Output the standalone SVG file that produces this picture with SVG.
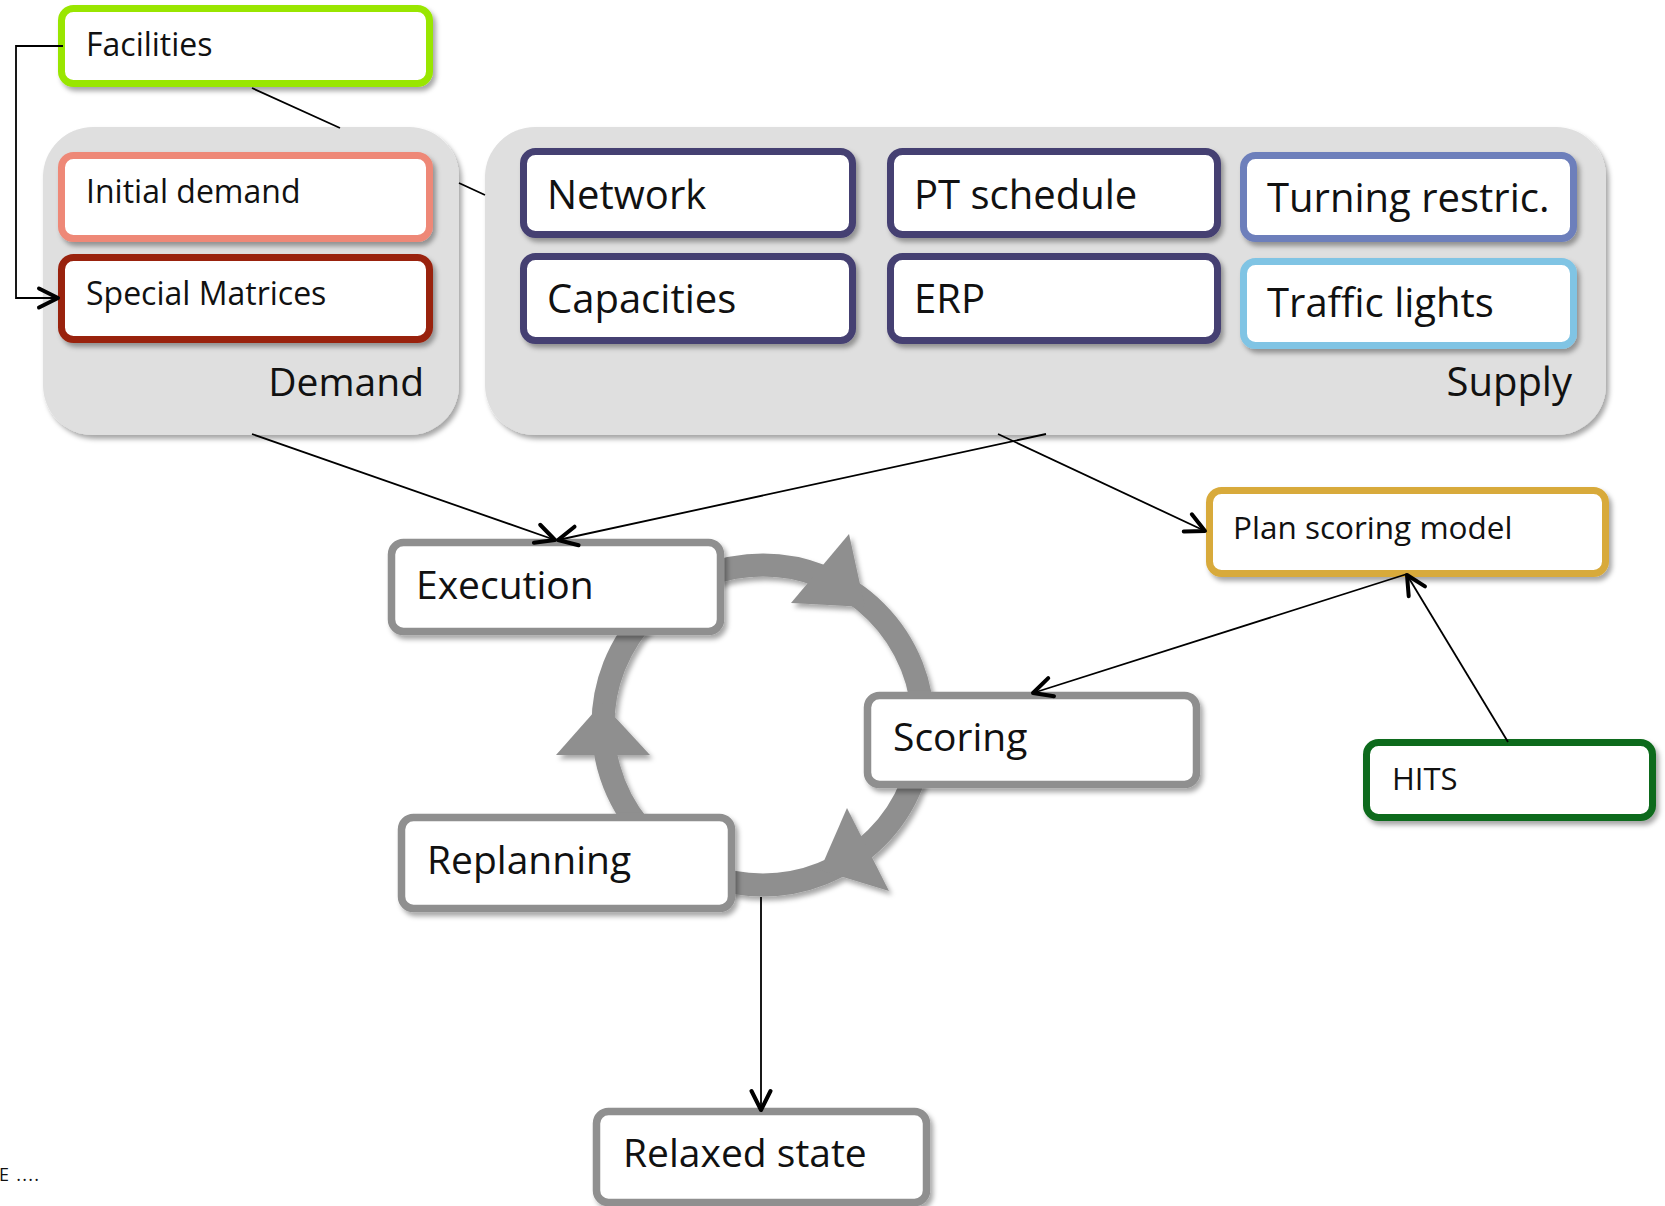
<svg xmlns="http://www.w3.org/2000/svg" width="1665" height="1206" viewBox="0 0 1665 1206">
<defs>
<filter id="sh" x="-10%" y="-20%" width="130%" height="150%">
<feDropShadow dx="3" dy="4" stdDeviation="2.5" flood-color="#000" flood-opacity="0.35"/>
</filter>
<marker id="arr" markerUnits="userSpaceOnUse" markerWidth="40" markerHeight="40" refX="0" refY="0" viewBox="-25 -20 30 40" orient="auto" overflow="visible">
<path d="M-19,-9.5 L0,0 L-19,9.5" fill="none" stroke="#000" stroke-width="4" stroke-linejoin="round" stroke-linecap="round"/>
</marker>
</defs>
<style>
text{font-family:"Open Sans","Noto Sans","Liberation Sans",sans-serif;fill:#111}
.box{fill:#fff;stroke-width:7;filter:url(#sh)}
.grp{fill:#dfdfdf;filter:url(#sh)}
.cyc{fill:#fff;stroke:#8f8f8f;stroke-width:7.5;filter:url(#sh)}
.con{fill:none;stroke:#000;stroke-width:1.8}
.navy{stroke:#443f72}
.t40{font-size:40px}
.t32{font-size:32px}
</style>
<rect width="1665" height="1206" fill="#fff"/>

<g id="demand-group">
<rect class="grp" x="43" y="127" width="416" height="308" rx="50"/>
<text x="424" y="396" font-size="39" text-anchor="end">Demand</text>
</g>
<g id="supply-group">
<rect class="grp" x="485" y="127" width="1121" height="308" rx="50"/>
<text x="1572" y="396" font-size="40" text-anchor="end">Supply</text>
</g>

<g id="facilities">
<rect class="box" x="61.5" y="8.5" width="368" height="75" rx="12" stroke="#99e600"/>
<text class="t32" x="86" y="56">Facilities</text>
</g>
<g id="initial-demand">
<rect class="box" x="61.5" y="155.5" width="368" height="83" rx="12" stroke="#ee8877"/>
<text class="t32" x="86" y="203">Initial demand</text>
</g>
<g id="special-matrices">
<rect class="box" x="61.5" y="257.5" width="368" height="82" rx="12" stroke="#992211"/>
<text class="t32" x="86" y="305">Special Matrices</text>
</g>

<g id="network">
<rect class="box navy" x="523.5" y="151.5" width="329" height="83" rx="12"/>
<text class="t40" x="547" y="209">Network</text>
</g>
<g id="pt-schedule">
<rect class="box navy" x="890.5" y="151.5" width="327" height="83" rx="12"/>
<text class="t40" x="914" y="209">PT schedule</text>
</g>
<g id="turning-restric">
<rect class="box" x="1243.5" y="155.5" width="330" height="83" rx="12" stroke="#6d7fbb"/>
<text class="t40" x="1267" y="212">Turning restric.</text>
</g>
<g id="capacities">
<rect class="box navy" x="523.5" y="256.5" width="329" height="84" rx="12"/>
<text class="t40" x="547" y="313">Capacities</text>
</g>
<g id="erp">
<rect class="box navy" x="890.5" y="256.5" width="327" height="84" rx="12"/>
<text class="t40" x="914" y="313">ERP</text>
</g>
<g id="traffic-lights">
<rect class="box" x="1243.5" y="261.5" width="330" height="84" rx="12" stroke="#80c4e4"/>
<text class="t40" x="1267" y="317">Traffic lights</text>
</g>

<g id="cycle" fill="#8f8f8f" filter="url(#sh)">
<circle cx="763" cy="725" r="160" fill="none" stroke="#8f8f8f" stroke-width="23"/>
<polygon points="849,534 791,603 865,607"/>
<polygon points="847,808 820,870 889,891"/>
<polygon points="602,703 556,755 650,755"/>
</g>

<g id="execution">
<rect class="cyc" x="391.5" y="542.5" width="329" height="89" rx="12"/>
<text x="416" y="599" font-size="39">Execution</text>
</g>
<g id="scoring">
<rect class="cyc" x="867.5" y="695.5" width="329" height="89" rx="12"/>
<text x="893" y="751" font-size="39">Scoring</text>
</g>
<g id="replanning">
<rect class="cyc" x="401.5" y="817.5" width="330" height="91" rx="12"/>
<text x="427" y="874" font-size="39">Replanning</text>
</g>
<g id="relaxed-state">
<rect class="cyc" x="596.5" y="1111.5" width="330" height="91" rx="12"/>
<text x="623" y="1167" font-size="39">Relaxed state</text>
</g>
<g id="plan-scoring-model">
<rect class="box" x="1209.5" y="490.5" width="396" height="83" rx="12" stroke="#d8aa3a"/>
<text x="1233" y="539" font-size="31.5">Plan scoring model</text>
</g>
<g id="hits">
<rect class="box" x="1366.5" y="742.5" width="286" height="75" rx="12" stroke="#0a6a1a"/>
<text x="1392" y="790" font-size="31">HITS</text>
</g>

<g id="connectors">
<path class="con" d="M63,46 H16 V298 H58" marker-end="url(#arr)"/>
<path class="con" d="M252,88 L340,128 M459,183 L485,195"/>
<path class="con" d="M252,434 L555,540" marker-end="url(#arr)"/>
<path class="con" d="M1046,434 L558,540" marker-end="url(#arr)"/>
<path class="con" d="M998,434 L1205,531" marker-end="url(#arr)"/>
<path class="con" d="M1407,574 L1033,693" marker-end="url(#arr)"/>
<path class="con" d="M1508,742 L1407,575" marker-end="url(#arr)"/>
<path class="con" d="M761,897 L761,1110" marker-end="url(#arr)"/>
</g>

<text x="-1" y="1181" font-size="18" fill="#222" textLength="40" lengthAdjust="spacing">E ....</text>
</svg>
